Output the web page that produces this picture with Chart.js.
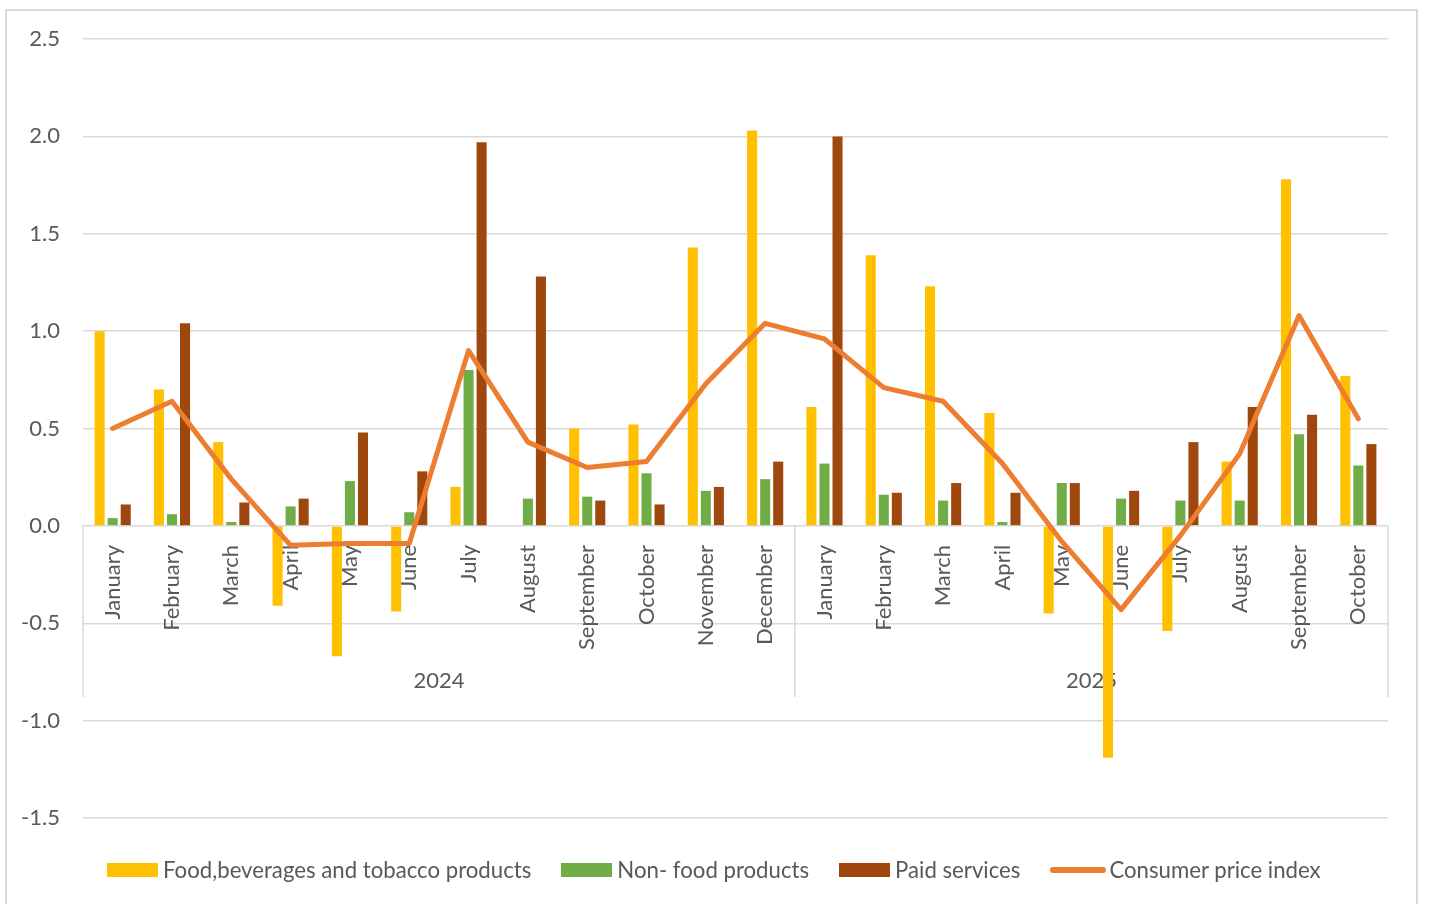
<!DOCTYPE html>
<html>
<head>
<meta charset="utf-8">
<script src="https://cdn.jsdelivr.net/npm/chart.js@4"></script>
<style>
  body { margin: 0; background: #fff; overflow: hidden; }
  #frame { position: absolute; left: 5px; top: 9px; width: 1413px; height: 940px; border: 2px solid #d9d9d9; box-sizing: border-box; }
  #wrap { position: absolute; left: 0; top: 0; width: 1429px; height: 904px; }
  #legend { position: absolute; left: 107px; top: 856px; display: flex; align-items: center;
            font-family: Lato, sans-serif; font-size: 22.2px; color: #595959; white-space: nowrap; }
  .item { display: flex; align-items: center; margin-right: 30px; }
  .swatch { width: 51px; height: 14px; margin-right: 5px; }
  .line { width: 56px; height: 6px; border-radius: 3px; margin-right: 3px; }
</style>
</head>
<body>
<div id="frame"></div>
<div id="wrap"><canvas id="chart"></canvas></div>
<div id="legend"></div>
<script>
const months = ['January', 'February', 'March', 'April', 'May', 'June', 'July', 'August',
  'September', 'October', 'November', 'December',
  'January', 'February', 'March', 'April', 'May', 'June', 'July', 'August', 'September', 'October'];
const years = ['2024', '2025'];
const monthsPerYear = [12, 10];

const food = [1.00, 0.70, 0.43, -0.41, -0.67, -0.44, 0.20, 0.00, 0.50, 0.52, 1.43, 2.03,
  0.61, 1.39, 1.23, 0.58, -0.45, -1.19, -0.54, 0.33, 1.78, 0.77];
const nonFood = [0.04, 0.06, 0.02, 0.10, 0.23, 0.07, 0.80, 0.14, 0.15, 0.27, 0.18, 0.24,
  0.32, 0.16, 0.13, 0.02, 0.22, 0.14, 0.13, 0.13, 0.47, 0.31];
const paidServices = [0.11, 1.04, 0.12, 0.14, 0.48, 0.28, 1.97, 1.28, 0.13, 0.11, 0.20, 0.33,
  2.00, 0.17, 0.22, 0.17, 0.22, 0.18, 0.43, 0.61, 0.57, 0.42];
const cpi = [0.50, 0.64, 0.24, -0.10, -0.09, -0.09, 0.90, 0.43, 0.30, 0.33, 0.73, 1.04,
  0.96, 0.71, 0.64, 0.32, -0.08, -0.43, -0.05, 0.37, 1.08, 0.55];

const textColor = '#595959';
const gridColor = '#d9d9d9';
const fontFamily = 'Lato, sans-serif';

// second row of the category axis: year names with separators
const yearAxis = {
  id: 'yearAxis',
  beforeDatasetsDraw(chart) {
    const { ctx, scales: { x, y } } = chart;
    const top = y.getPixelForValue(0);
    const bottom = 697;
    ctx.save();
    ctx.strokeStyle = gridColor;
    ctx.lineWidth = 1.5;
    ctx.fillStyle = textColor;
    ctx.font = '22px ' + fontFamily;
    ctx.textAlign = 'center';
    ctx.textBaseline = 'middle';
    let start = 0;
    years.forEach((yr, i) => {
      const x0 = x.getPixelForValue(start - 0.5);
      const x1 = x.getPixelForValue(start + monthsPerYear[i] - 0.5);
      ctx.beginPath();
      ctx.moveTo(x0, top);
      ctx.lineTo(x0, bottom);
      if (i === years.length - 1) {
        ctx.moveTo(x1, top);
        ctx.lineTo(x1, bottom);
      }
      ctx.stroke();
      ctx.fillText(yr, (x0 + x1) / 2, 681);
      start += monthsPerYear[i];
    });
    ctx.restore();
  }
};

const chart = new Chart(document.getElementById('chart'), {
  type: 'bar',
  data: {
    labels: months,
    datasets: [
      { label: 'Food,beverages and tobacco products', data: food, backgroundColor: '#ffc000', order: 1 },
      { label: 'Non- food products', data: nonFood, backgroundColor: '#70ad47', order: 1 },
      { label: 'Paid services', data: paidServices, backgroundColor: '#9e480e', order: 1 },
      {
        type: 'line', label: 'Consumer price index', data: cpi, order: 0,
        borderColor: '#ed7d31', backgroundColor: '#ed7d31', borderWidth: 5,
        pointRadius: 0, borderJoinStyle: 'round', borderCapStyle: 'round', tension: 0
      }
    ]
  },
  options: {
    responsive: true,
    maintainAspectRatio: false,
    animation: false,
    layout: { padding: { top: 39, left: 0, right: 41, bottom: 86 } },
    datasets: { bar: { categoryPercentage: 0.66, barPercentage: 0.77 } },
    plugins: { legend: { display: false }, tooltip: { enabled: false } },
    scales: {
      x: {
        position: { y: 0 },
        grid: { display: false },
        border: { display: false },
        ticks: {
          autoSkip: false, minRotation: 90, maxRotation: 90, padding: 11,
          color: textColor, font: { family: fontFamily, size: 22 }
        }
      },
      y: {
        min: -1.5, max: 2.5,
        grid: { color: gridColor, lineWidth: 1.5, drawTicks: false },
        border: { display: false },
        afterFit(scale) { scale.width = 83; },
        ticks: {
          stepSize: 0.5, padding: 23, color: textColor,
          font: { family: fontFamily, size: 22 },
          callback: v => v.toFixed(1)
        }
      }
    }
  },
  plugins: [yearAxis]
});

// legend in the order of the datasets
const legend = document.getElementById('legend');
chart.data.datasets.forEach(ds => {
  const item = document.createElement('div');
  item.className = 'item';
  const mark = document.createElement('span');
  mark.className = ds.type === 'line' ? 'line' : 'swatch';
  mark.style.background = ds.backgroundColor;
  const label = document.createElement('span');
  label.textContent = ds.label;
  item.appendChild(mark);
  item.appendChild(label);
  legend.appendChild(item);
});
</script>
</body>
</html>
